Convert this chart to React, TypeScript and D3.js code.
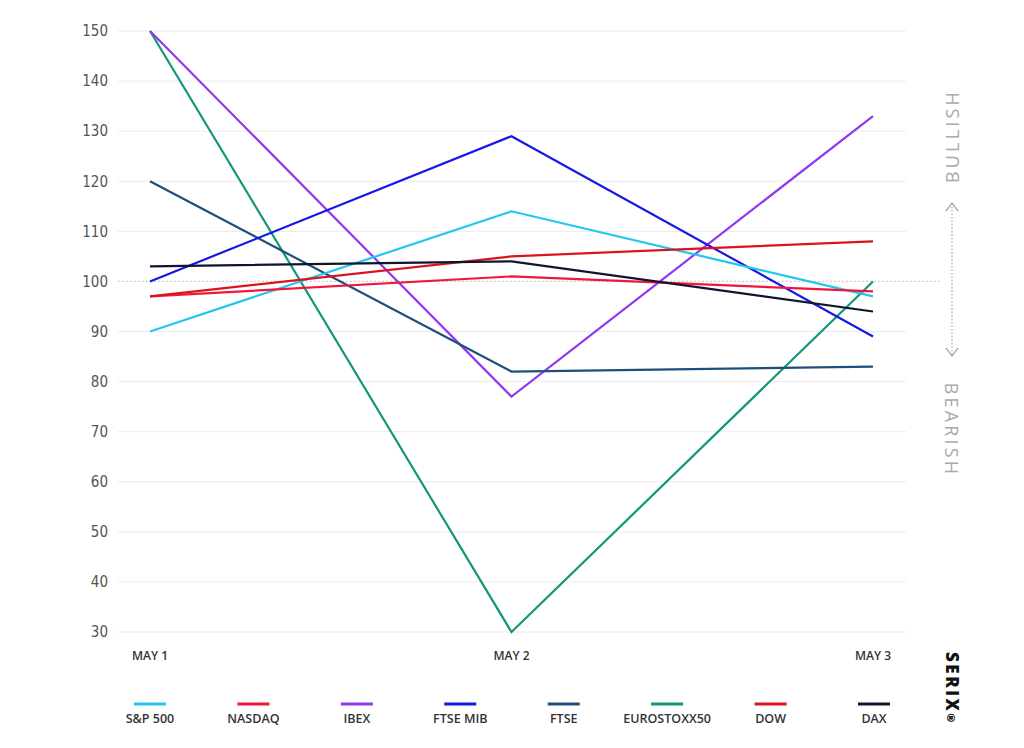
import React from "react";
import * as d3 from "d3";

const dates = ["MAY 1", "MAY 2", "MAY 3"];
const yTicks = [30, 40, 50, 60, 70, 80, 90, 100, 110, 120, 130, 140, 150];

const seriesNames = ["S&P 500", "NASDAQ", "IBEX", "FTSE MIB", "FTSE", "EUROSTOXX50", "DOW", "DAX"];
const seriesColors = ["#22c6ef", "#f0173f", "#9137f2", "#1717e8", "#1d4f7c", "#12977a", "#d9151b", "#10142e"];
const sp500 = [90, 114, 97];
const nasdaq = [97, 101, 98];
const ibex = [150, 77, 133];
const ftseMib = [100, 129, 89];
const ftse = [120, 82, 83];
const eurostoxx = [150, 30, 100];
const dow = [97, 105, 108];
const dax = [103, 104, 94];
const seriesValues = [sp500, nasdaq, ibex, ftseMib, ftse, eurostoxx, dow, dax];
// draw order (back to front)
const drawOrder = [5, 2, 4, 3, 0, 1, 6, 7];

const W = 1024;
const H = 748;

export default function App() {
  const x = d3.scalePoint<string>().domain(dates).range([150, 873]);
  const y = d3.scaleLinear().domain([30, 150]).range([632, 31]);
  const line = d3
    .line<number>()
    .x((_, i) => x(dates[i]) as number)
    .y((d) => y(d));
  const legendX = d3.scalePoint<string>().domain(seriesNames).range([150, 874]);
  const numFont = "'DejaVu Sans Condensed', 'Liberation Sans Narrow', sans-serif";
  const labFont = "'Open Sans', 'Noto Sans', sans-serif";
  const arrowTop = 203;
  const arrowBot = 356;
  const ax = 952;
  return (
    <svg
      width={W}
      height={H}
      style={{ position: "absolute", left: 0, top: 0, background: "#fff" }}
    >
      <rect x={0} y={0} width={W} height={H} fill="#fff" />
      {yTicks.map((t) =>
        t === 100 ? null : (
          <line key={t} x1={118} x2={906} y1={y(t)} y2={y(t)} stroke="#ebebeb" strokeWidth={1} />
        )
      )}
      <line
        x1={118}
        x2={940}
        y1={y(100)}
        y2={y(100)}
        stroke="#bdbdbd"
        strokeWidth={1.2}
        strokeDasharray="1.5 2.5"
      />
      {yTicks.map((t) => (
        <text
          key={"l" + t}
          x={108}
          y={y(t)}
          dy="0.35em"
          textAnchor="end"
          fontFamily={numFont}
          fontSize={15}
          fill="#555"
        >
          {t}
        </text>
      ))}
      {dates.map((d) => (
        <text
          key={d}
          x={x(d) as number}
          y={660}
          textAnchor="middle"
          fontFamily={labFont}
          fontWeight={600}
          fontSize={12}
          fill="#333"
        >
          {d}
        </text>
      ))}
      {drawOrder.map((i) => (
        <path
          key={seriesNames[i]}
          d={line(seriesValues[i]) as string}
          fill="none"
          stroke={seriesColors[i]}
          strokeWidth={2.2}
          strokeLinejoin="miter"
        />
      ))}
      {seriesNames.map((n, i) => {
        const cx = legendX(n) as number;
        return (
          <g key={"lg" + n}>
            <line x1={cx - 16} x2={cx + 16} y1={704} y2={704} stroke={seriesColors[i]} strokeWidth={3} />
            <text
              x={cx}
              y={723}
              textAnchor="middle"
              fontFamily={labFont}
              fontWeight={600}
              fontSize={12.5}
              fill="#333"
            >
              {n}
            </text>
          </g>
        );
      })}
      {/* Bullish / Bearish */}
      <text
        transform={`translate(${ax + 7},136) rotate(-90)`}
        textAnchor="middle"
        fontFamily={labFont}
        fontSize={18}
        letterSpacing={3.2}
        fill="#a9a9a9"
      >
        BULLISH
      </text>
      <text
        transform={`translate(${ax - 7},430) rotate(90)`}
        textAnchor="middle"
        fontFamily={labFont}
        fontSize={18}
        letterSpacing={3.2}
        fill="#a9a9a9"
      >
        BEARISH
      </text>
      <line
        x1={ax}
        x2={ax}
        y1={arrowTop}
        y2={arrowBot}
        stroke="#a9a9a9"
        strokeWidth={1.3}
        strokeDasharray="1.5 2"
      />
      <path
        d={`M${ax - 6},${arrowTop + 8} L${ax},${arrowTop} L${ax + 6},${arrowTop + 8}`}
        fill="none"
        stroke="#a9a9a9"
        strokeWidth={1.3}
      />
      <path
        d={`M${ax - 6},${arrowBot - 8} L${ax},${arrowBot} L${ax + 6},${arrowBot - 8}`}
        fill="none"
        stroke="#a9a9a9"
        strokeWidth={1.3}
      />
      {/* SERIX */}
      <text
        transform={`translate(${ax - 6},652) rotate(90)`}
        textAnchor="start"
        fontFamily={labFont}
        fontWeight={800}
        fontSize={17}
        letterSpacing={2.5}
        fill="#111"
      >
        SERIX
        <tspan fontSize={11} dy={-1} letterSpacing={0}>
          ®
        </tspan>
      </text>
    </svg>
  );
}
